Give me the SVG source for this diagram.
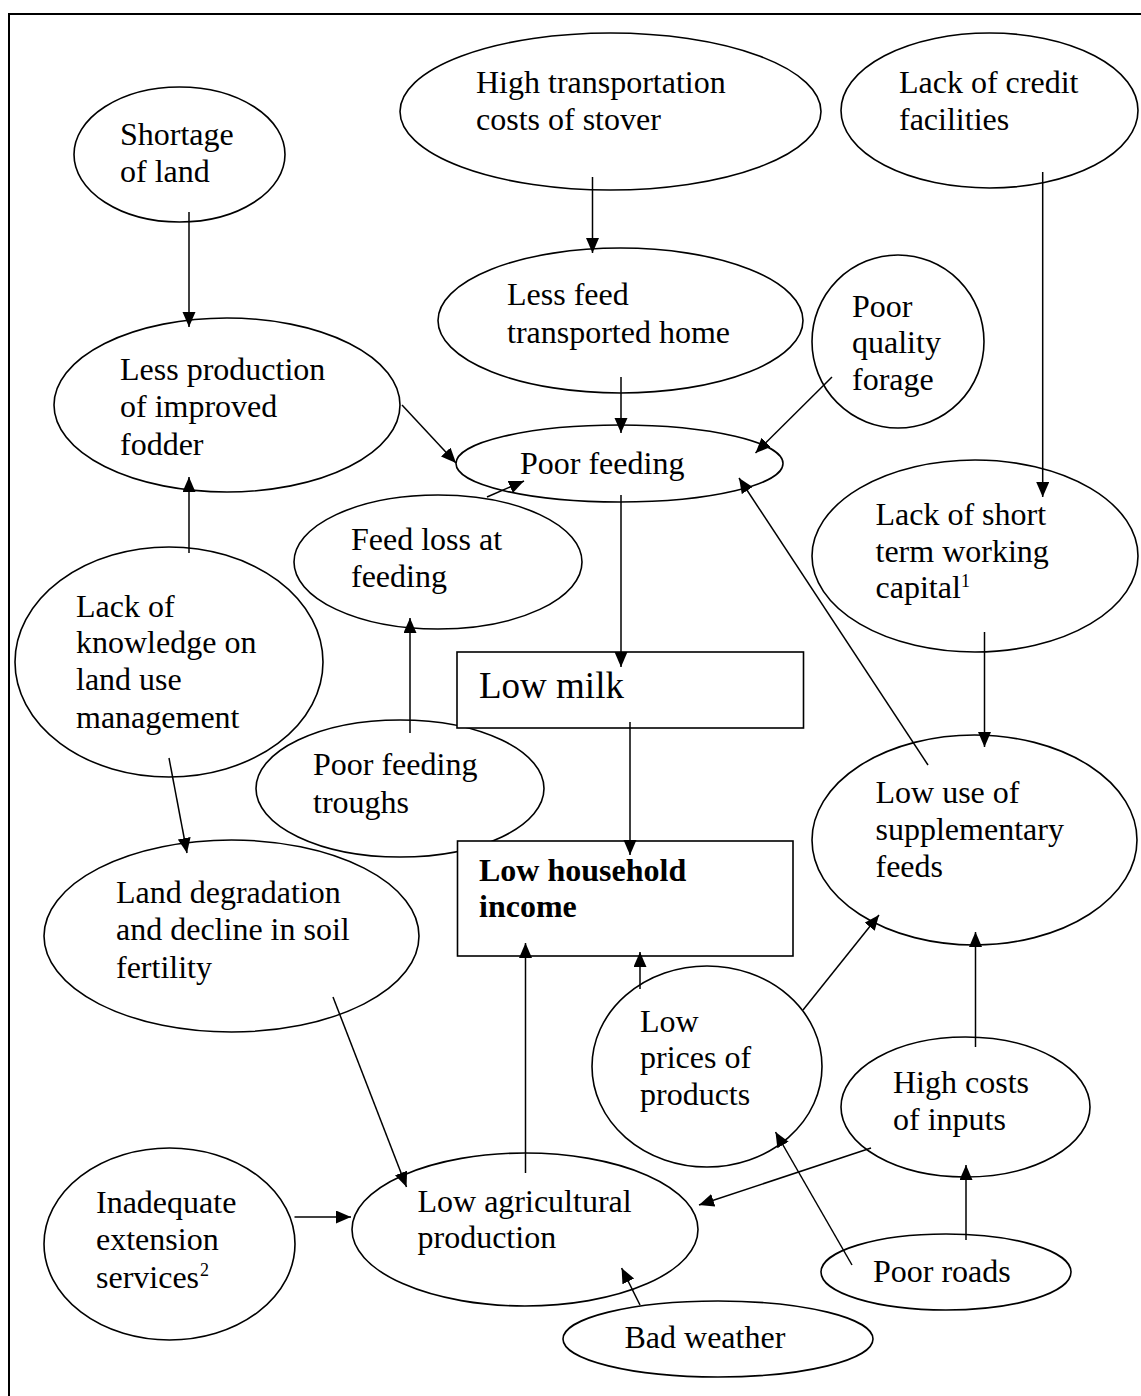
<svg xmlns="http://www.w3.org/2000/svg" width="1141" height="1396" viewBox="0 0 1141 1396">
<style>
.n{fill:#fff;stroke:#000;stroke-width:1.6}
.t{font-family:"Liberation Serif","Times New Roman",serif;font-size:32px;fill:#000}
.b{font-weight:bold}
.s{font-size:18px}
.c line{stroke:#000;stroke-width:1.5;marker-end:url(#ah)}
</style>
<defs>
<marker id="ah" markerUnits="userSpaceOnUse" markerWidth="16" markerHeight="14" refX="15" refY="6.5" orient="auto">
<path d="M0,0 L15,6.5 L0,13 z" fill="#000"/>
</marker>
</defs>
<rect x="0" y="0" width="1141" height="1396" fill="#fff"/>
<rect x="9" y="14" width="1140" height="1400" fill="none" stroke="#000" stroke-width="2"/>

<g id="shortage"><ellipse class="n" cx="179.5" cy="154.5" rx="105.5" ry="67.5"/>
<text class="t" x="120" y="145">Shortage</text><text class="t" x="120" y="182">of land</text></g>

<g id="lessprod"><ellipse class="n" cx="227" cy="405" rx="173" ry="87"/>
<text class="t" x="120" y="380">Less production</text><text class="t" x="120" y="417">of improved</text><text class="t" x="120" y="455">fodder</text></g>

<g id="hightrans"><ellipse class="n" cx="610.5" cy="111.5" rx="210.5" ry="78.5"/>
<text class="t" x="476" y="93">High transportation</text><text class="t" x="476" y="130">costs of stover</text></g>

<g id="credit"><ellipse class="n" cx="989.5" cy="110.5" rx="148.5" ry="77.5"/>
<text class="t" x="899" y="93">Lack of credit</text><text class="t" x="899" y="130">facilities</text></g>

<g id="lessfeed"><ellipse class="n" cx="620.5" cy="320.5" rx="182.5" ry="72.5"/>
<text class="t" x="507" y="305">Less feed</text><text class="t" x="507" y="343">transported home</text></g>

<g id="forage"><ellipse class="n" cx="898" cy="341.5" rx="86" ry="86.5"/>
<text class="t" x="852" y="317">Poor</text><text class="t" x="852" y="353">quality</text><text class="t" x="852" y="390">forage</text></g>

<g id="poorfeeding"><ellipse class="n" cx="619.5" cy="463.5" rx="163.5" ry="38.5"/>
<text class="t" x="520" y="474">Poor feeding</text></g>

<g id="shortterm"><ellipse class="n" cx="975" cy="556" rx="163" ry="96"/>
<text class="t" x="875.5" y="525">Lack of short</text><text class="t" x="875.5" y="562">term working</text><text class="t" x="875.5" y="598">capital</text><text class="t s" x="961" y="587">1</text></g>

<g id="feedloss"><ellipse class="n" cx="438" cy="562" rx="144" ry="67"/>
<text class="t" x="351" y="550">Feed loss at</text><text class="t" x="351" y="587">feeding</text></g>

<g id="knowledge"><ellipse class="n" cx="169" cy="662" rx="154" ry="115"/>
<text class="t" x="76" y="617">Lack of</text><text class="t" x="76" y="653">knowledge on</text><text class="t" x="76" y="690">land use</text><text class="t" x="76" y="728">management</text></g>

<g id="troughs"><ellipse class="n" cx="400" cy="788.5" rx="144" ry="68.5"/>
<text class="t" x="313" y="775">Poor feeding</text><text class="t" x="313" y="813">troughs</text></g>

<g id="lowmilk"><rect class="n" x="457" y="652" width="346.5" height="76"/>
<text class="t" x="479" y="698" style="font-size:37px">Low milk</text></g>

<g id="income"><rect class="n" x="457.5" y="841" width="335.5" height="115"/>
<text class="t b" x="479" y="881">Low household</text><text class="t b" x="479" y="917">income</text></g>

<g id="lowuse"><ellipse class="n" cx="974.5" cy="840" rx="162.5" ry="105"/>
<text class="t" x="875.5" y="803">Low use of</text><text class="t" x="875.5" y="840">supplementary</text><text class="t" x="875.5" y="877">feeds</text></g>

<g id="landdeg"><ellipse class="n" cx="231.5" cy="936" rx="187.5" ry="96"/>
<text class="t" x="116" y="903">Land degradation</text><text class="t" x="116" y="940">and decline in soil</text><text class="t" x="116" y="978">fertility</text></g>

<g id="lowprices"><ellipse class="n" cx="707" cy="1066.5" rx="115" ry="100.5"/>
<text class="t" x="640" y="1032">Low</text><text class="t" x="640" y="1068">prices of</text><text class="t" x="640" y="1105">products</text></g>

<g id="highcosts"><ellipse class="n" cx="965.5" cy="1107" rx="124.5" ry="70"/>
<text class="t" x="893" y="1093">High costs</text><text class="t" x="893" y="1130">of inputs</text></g>

<g id="poorroads"><ellipse class="n" cx="946" cy="1272" rx="125" ry="38"/>
<text class="t" x="873" y="1282">Poor roads</text></g>

<g id="badweather"><ellipse class="n" cx="718" cy="1339" rx="155" ry="38"/>
<text class="t" x="624.5" y="1348">Bad weather</text></g>

<g id="extension"><ellipse class="n" cx="169.5" cy="1244" rx="125.5" ry="96"/>
<text class="t" x="96" y="1213">Inadequate</text><text class="t" x="96" y="1250">extension</text><text class="t" x="96" y="1288">services</text><text class="t s" x="200" y="1276">2</text></g>

<g id="lowagri"><ellipse class="n" cx="525" cy="1229.5" rx="173" ry="76.5"/>
<text class="t" x="417.5" y="1212">Low agricultural</text><text class="t" x="417.5" y="1248">production</text></g>

<g id="connectors" class="c">
<line x1="189" y1="212" x2="189" y2="327"/>
<line x1="402" y1="405" x2="456" y2="463"/>
<line x1="592.5" y1="177" x2="592.5" y2="253"/>
<line x1="621" y1="377" x2="621" y2="433"/>
<line x1="832" y1="377" x2="755.5" y2="453"/>
<line x1="1042.7" y1="172" x2="1042.7" y2="497"/>
<line x1="189" y1="553" x2="189" y2="477"/>
<line x1="487" y1="497" x2="524" y2="481"/>
<line x1="410" y1="733" x2="410" y2="618"/>
<line x1="621" y1="495" x2="621" y2="667"/>
<line x1="630" y1="722" x2="630" y2="855"/>
<line x1="928" y1="765" x2="739" y2="478"/>
<line x1="984.5" y1="632" x2="984.5" y2="747"/>
<line x1="169" y1="758" x2="187" y2="853"/>
<line x1="333" y1="997" x2="406.5" y2="1187"/>
<line x1="294.5" y1="1217" x2="351" y2="1217"/>
<line x1="525.5" y1="1173" x2="525.5" y2="943"/>
<line x1="640" y1="989" x2="640" y2="952"/>
<line x1="803" y1="1010" x2="879" y2="915"/>
<line x1="975.5" y1="1047" x2="975.5" y2="932"/>
<line x1="966" y1="1240" x2="966" y2="1165"/>
<line x1="852" y1="1265" x2="775.5" y2="1132"/>
<line x1="871" y1="1148" x2="699" y2="1205"/>
<line x1="640" y1="1305" x2="621.6" y2="1268"/>
</g>
</svg>
